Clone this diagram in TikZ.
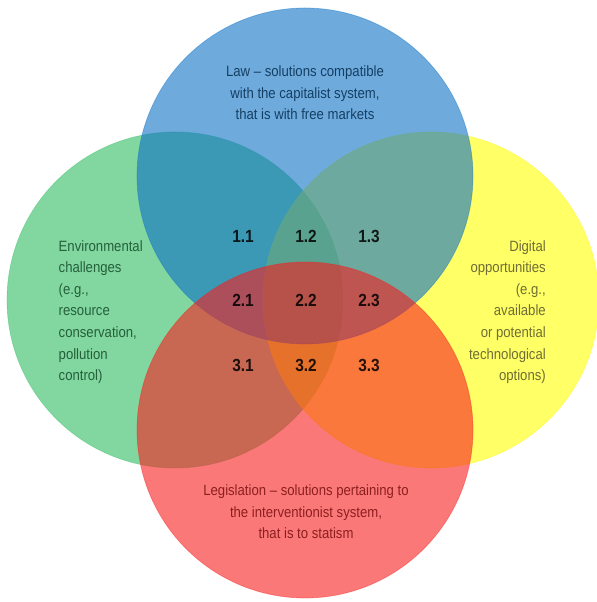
\documentclass[tikz,border=0pt]{standalone}
\usepackage{fontspec}
\setmainfont{Liberation Sans}[FakeStretch=0.88]
\usepackage{tikz}

\definecolor{lawblue}{RGB}{13,113,197}
\definecolor{envgreen}{RGB}{47,188,97}
\definecolor{digyellow}{RGB}{255,255,0}
\definecolor{legred}{RGB}{247,30,30}

\begin{document}
\begin{tikzpicture}[every node/.style={font=\fontsize{8.5}{12.3}\selectfont, text opacity=0.85}]
	\useasboundingbox (0,0) rectangle (11.92,12.04);
	\coordinate (env) at (3.50,6.04);
	\coordinate (dig) at (8.62,6.04);
	\coordinate (law) at (6.10,8.52);
	\coordinate (leg) at (6.10,3.44);
	\draw[envgreen, fill=envgreen, fill opacity=0.6, draw opacity=0.4, thin] (env) circle (3.36);
	\draw[digyellow, fill=digyellow, fill opacity=0.6, draw opacity=0.4, thin] (dig) circle (3.36);
	\draw[lawblue, fill=lawblue, fill opacity=0.6, draw opacity=0.4, thin] (law) circle (3.36);
	\draw[legred, fill=legred, fill opacity=0.6, draw opacity=0.4, thin] (leg) circle (3.36);
	\node[align=center, text=lawblue!40!black] (lawtext) at (6.10,10.18) {Law -- solutions compatible\\with the capitalist system,\\that is with free markets};
	\node[align=left, anchor=west, text=envgreen!40!black] (envtext) at (1.05,5.80) {Environmental\\challenges\\(e.g.,\\resource\\conservation,\\pollution\\control)};
	\node[align=right, anchor=east, text=olive!50!black] (digtext) at (11.04,5.80) {Digital\\opportunities\\(e.g.,\\available\\or potential\\technological\\options)};
	\node[align=center, text=legred!50!black] (legtext) at (6.12,1.80) {Legislation -- solutions pertaining to\\the interventionist system,\\that is to statism};
	\foreach \r/\y in {1/7.32, 2/6.04, 3/4.74}
		\foreach \c/\x in {1/4.86, 2/6.12, 3/7.38}
			\node[font=\bfseries\fontsize{10}{12}\selectfont, text=black] (n\r\c) at (\x,\y) {\r.\c};
\end{tikzpicture}
\end{document}
